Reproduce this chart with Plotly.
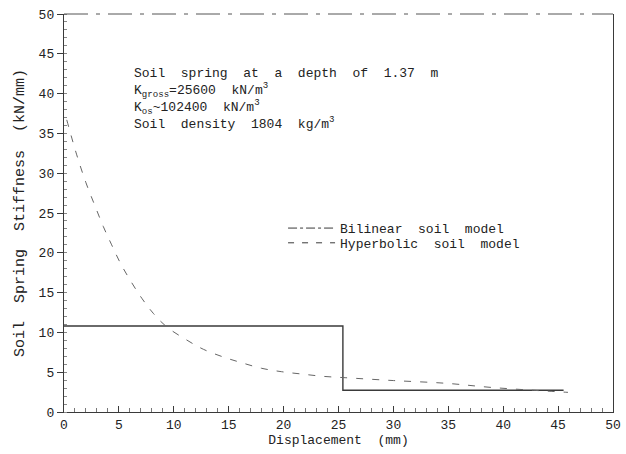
import plotly.graph_objects as go

# Data
hyper_x = [0.25, 1.16, 2.0, 2.82, 3.58, 4.34, 5.10, 6.01, 7.08, 8.13, 9.35, 11.17, 12.69,
           14.51, 16.18, 18.0, 19.83, 21.65, 23.6, 25.6, 30.0, 34.85, 38.8, 42.74, 45.9]
hyper_y = [36.7, 32.3, 28.8, 25.9, 23.3, 21.0, 18.8, 16.6, 14.3, 12.4, 10.7, 9.05, 7.88,
           6.91, 6.19, 5.49, 5.06, 4.77, 4.48, 4.31, 3.95, 3.6, 3.1, 2.73, 2.47]

bilin_x = [0, 25.4, 25.4, 45.5]
bilin_y = [10.8, 10.8, 2.73, 2.73]

x_ticks = [0, 5, 10, 15, 20, 25, 30, 35, 40, 45, 50]
y_ticks = [0, 5, 10, 15, 20, 25, 30, 35, 40, 45, 50]

note_lines = [
    "Soil spring at a depth of 1.37 m",
    "K<sub>gross</sub>=25600 kN/m<sup>3</sup>",
    "K<sub>os</sub>~102400 kN/m<sup>3</sup>",
    "Soil density 1804 kg/m<sup>3</sup>",
]

FONT = "Liberation Mono"
INK = "#222222"
LINE = "#3a3a3a"


def wide(s, n=2):
    return s.replace(" ", " " + "\u00a0" * (n - 1))


fig = go.Figure()

fig.add_trace(go.Scatter(x=bilin_x, y=bilin_y, mode="lines", showlegend=False,
                         line=dict(color=LINE, width=1.4)))
fig.add_trace(go.Scatter(x=hyper_x, y=hyper_y, mode="lines", showlegend=False,
                         line=dict(color="#666666", width=1, dash="7px,9px"), line_shape="spline"))

fig.add_trace(go.Scatter(x=[None], y=[None], mode="lines", name=wide("Bilinear soil model"),
                         legend="legend", line=dict(color=LINE, width=1, dash="dashdot")))
fig.add_trace(go.Scatter(x=[None], y=[None], mode="lines", name=wide("Hyperbolic soil model"),
                         legend="legend2", line=dict(color=LINE, width=1, dash="6px,8px")))

fig.add_shape(type="line", xref="paper", yref="paper", x0=0, x1=1, y0=1, y1=1,
              line=dict(color="#555555", width=1, dash="24px,8px,4px,8px"))

fig.add_annotation(xref="x", yref="y", x=6.2, y=39.3, xanchor="left", yanchor="middle",
                   showarrow=False, align="left",
                   text="<br>".join(wide(t) for t in note_lines),
                   font=dict(family=FONT, size=13, color=INK))

leg_common = dict(xanchor="left", yanchor="middle", bgcolor="rgba(0,0,0,0)",
                  font=dict(family=FONT, size=13, color=INK), itemwidth=47)

fig.update_layout(
    width=626, height=454,
    margin=dict(l=64, r=13, t=14, b=42),
    plot_bgcolor="white", paper_bgcolor="white",
    font=dict(family=FONT, size=13, color=INK),
    legend=dict(x=0.399, y=0.462, **leg_common),
    legend2=dict(x=0.399, y=0.425, **leg_common),
    xaxis=dict(range=[0, 50], tickvals=x_ticks, ticktext=[str(v) for v in x_ticks],
               showgrid=False, zeroline=False, showline=True, linecolor=LINE, linewidth=1,
               automargin=False,
               ticks="inside", ticklen=6, tickcolor=LINE,
               minor=dict(dtick=1, ticks="inside", ticklen=4, tickcolor="#777777"),
               title=dict(text=wide("Displacement (mm)"), font=dict(family=FONT, size=13, color=INK), standoff=2),
               tickfont=dict(family=FONT, size=13, color=INK)),
    yaxis=dict(range=[0, 50], tickvals=y_ticks, ticktext=[str(v) for v in y_ticks],
               showgrid=False, zeroline=False, showline=True, linecolor=LINE, linewidth=1.4,
               mirror=True, automargin=False,
               ticks="outside", ticklen=6, tickcolor=LINE,
               minor=dict(dtick=1, ticks="inside", ticklen=3, tickcolor="#888888"),
               title=dict(text=wide("Soil Spring Stiffness (kN/mm)"), font=dict(family=FONT, size=15, color=INK), standoff=10),
               tickfont=dict(family=FONT, size=13, color=INK)),
)

fig.write_html("out.html")
